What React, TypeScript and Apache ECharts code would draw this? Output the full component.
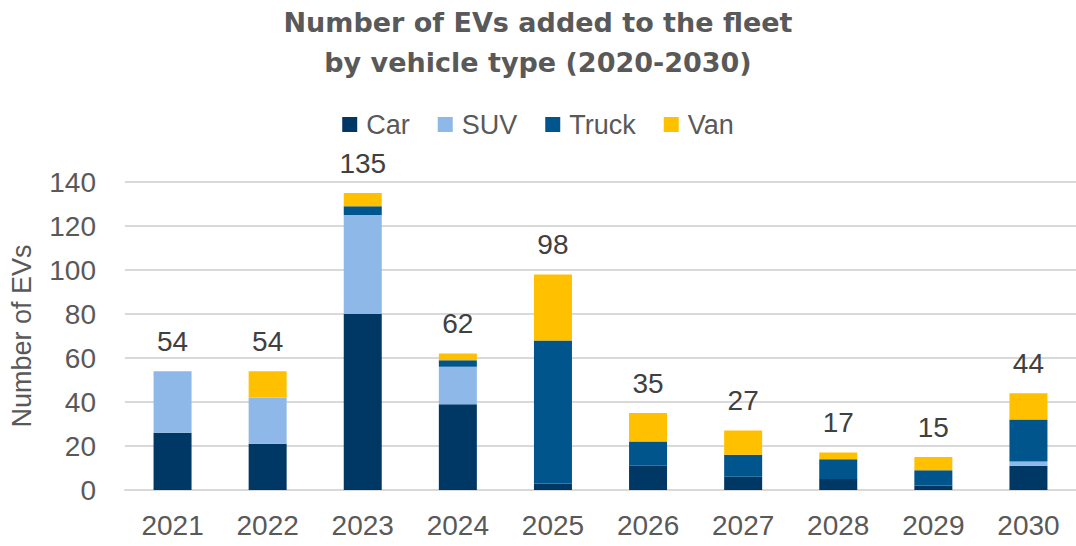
import React, { useEffect, useRef } from "react";
import * as echarts from "echarts";

const years = ["2021", "2022", "2023", "2024", "2025", "2026", "2027", "2028", "2029", "2030"];
const car = [26, 21, 80, 39, 3, 11, 6, 5, 2, 11];
const suv = [28, 21, 45, 17, 0, 0, 0, 0, 0, 2];
const truck = [0, 0, 4, 3, 65, 11, 10, 9, 7, 19];
const van = [0, 12, 6, 3, 30, 13, 11, 3, 6, 12];
const totals = [54, 54, 135, 62, 98, 35, 27, 17, 15, 44];

const FONT = "'Liberation Sans', Arial, sans-serif";

export default function App() {
  const ref = useRef<HTMLDivElement>(null);
  useEffect(() => {
    if (!ref.current) return;
    const chart = echarts.init(ref.current, null, { renderer: "svg" });
    const mk = (name: string, data: number[], color: string) => ({
      name,
      type: "bar",
      stack: "total",
      data,
      barWidth: 38,
      itemStyle: { color },
    });
    chart.setOption({
      animation: false,
      textStyle: { fontFamily: FONT },
      title: {
        text: "Number of EVs added to the fleet\nby vehicle type (2020-2030)",
        left: "center",
        top: -3,
        textStyle: {
          fontFamily: "'DejaVu Sans', sans-serif",
          fontSize: 27,
          fontWeight: "bold",
          color: "#595959",
          lineHeight: 40,
        },
      },
      legend: {
        top: 106,
        left: "center",
        itemWidth: 15,
        itemHeight: 15,
        itemGap: 28,
        icon: "rect",
        data: ["Car", "SUV", "Truck", "Van"],
        textStyle: { fontSize: 27, color: "#595959", fontFamily: FONT, padding: [0, 0, 0, 4] },
      },
      grid: { left: 124, top: 182, width: 961, bottom: 56 },
      xAxis: {
        type: "category",
        data: years,
        axisLine: { lineStyle: { color: "#d9d9d9", width: 2 } },
        axisTick: { show: false },
        axisLabel: { fontSize: 28, color: "#595959", margin: 21, fontFamily: FONT },
      },
      yAxis: {
        type: "value",
        min: 0,
        max: 140,
        interval: 20,
        name: "Number of EVs",
        nameLocation: "middle",
        nameGap: 90,
        nameTextStyle: { fontSize: 27, color: "#595959", fontFamily: FONT },
        axisLabel: { fontSize: 28, color: "#595959", margin: 29, fontFamily: FONT },
        splitLine: { lineStyle: { color: "#d9d9d9", width: 2 } },
        axisLine: { show: false },
        axisTick: { show: false },
      },
      series: [
        mk("Car", car, "#003865"),
        mk("SUV", suv, "#8DB8E8"),
        mk("Truck", truck, "#00558C"),
        mk("Van", van, "#FFC000"),
        {
          name: "Total",
          type: "bar",
          stack: "total",
          barWidth: 38,
          data: totals.map(() => 0),
          itemStyle: { color: "transparent" },
          label: {
            show: true,
            position: "top",
            distance: 16,
            fontSize: 28,
            color: "#404040",
            fontFamily: FONT,
            formatter: (p: any) => String(totals[p.dataIndex]),
          },
        },
      ],
    });
    return () => chart.dispose();
  }, []);
  return <div ref={ref} style={{ width: 1076, height: 546, position: "absolute", left: 0, top: 0 }} />;
}
